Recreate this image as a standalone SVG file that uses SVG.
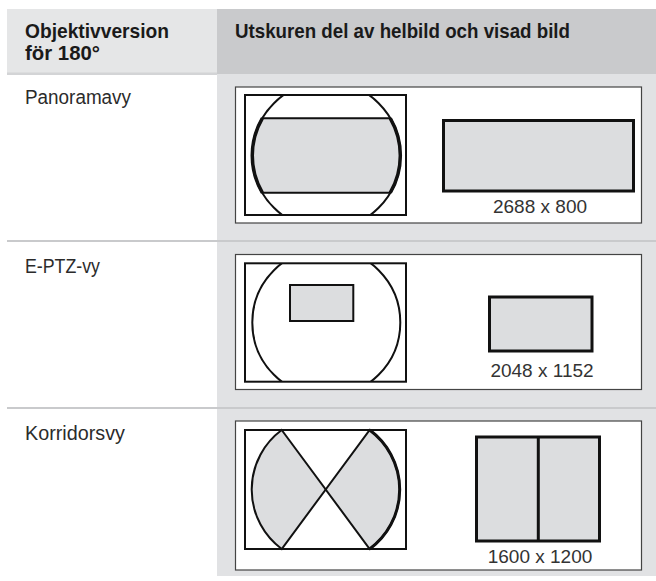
<svg xmlns="http://www.w3.org/2000/svg" width="656" height="581" viewBox="0 0 656 581">
<style>
.hd{font-family:"Liberation Sans",Arial,sans-serif;font-weight:bold;font-size:21px;fill:#1a1a1a}
.lb{font-family:"Liberation Sans",Arial,sans-serif;font-size:20px;fill:#2b2b2b}
.num{font-family:"Liberation Sans",Arial,sans-serif;font-size:19px;fill:#333;text-anchor:middle}
.box{fill:#fff;stroke:#444;stroke-width:1.2}
.frame{fill:none;stroke:#111;stroke-width:2}
.thin{fill:none;stroke:#111;stroke-width:2}
.thick{fill:none;stroke:#111;stroke-width:3.5}
.g{fill:#dcdddf;stroke:#111;stroke-width:2}
.gt{fill:#dcdddf;stroke:#111;stroke-width:3}
.sep{stroke:#c9cacc;stroke-width:2}
</style>
<defs>
<clipPath id="c1"><rect x="245" y="95" width="161" height="120"/></clipPath>
<clipPath id="c2"><rect x="245" y="263.3" width="161" height="118.4"/></clipPath>
</defs>
<g id="table">
<rect x="7" y="9" width="210" height="65" fill="#e5e6e7"/>
<rect x="217" y="9" width="439" height="65" fill="#c9cacc"/>
<rect x="7" y="72.5" width="210" height="2.5" fill="#d3d4d6"/>
<rect x="217" y="74" width="439" height="502" fill="#e1e2e4"/>
<line class="sep" x1="7" y1="241" x2="656" y2="241"/>
<line class="sep" x1="7" y1="408" x2="656" y2="408"/>
</g>
<g id="header">
<text class="hd" x="25" y="38" textLength="144" lengthAdjust="spacingAndGlyphs">Objektivversion</text>
<text class="hd" x="25" y="60" textLength="75" lengthAdjust="spacingAndGlyphs">för 180°</text>
<text class="hd" x="235" y="38" textLength="335" lengthAdjust="spacingAndGlyphs">Utskuren del av helbild och visad bild</text>
</g>
<g id="row-panorama">
<text class="lb" x="25" y="104" textLength="106" lengthAdjust="spacingAndGlyphs">Panoramavy</text>
<rect class="box" x="235.5" y="87" width="406" height="136"/>
<rect class="frame" x="245" y="95" width="161" height="120"/>
<circle class="thin" cx="326.3" cy="155.5" r="74" clip-path="url(#c1)"/>
<path d="M262.3 118.3 L390.3 118.3 A74 74 0 0 1 390.3 192.7 L262.3 192.7 A74 74 0 0 1 262.3 118.3 Z" class="g"/>
<path d="M390.3 118.3 A74 74 0 0 1 390.3 192.7 M262.3 192.7 A74 74 0 0 1 262.3 118.3" class="thick"/>
<rect class="gt" x="443.5" y="120.5" width="190" height="70.5"/>
<text class="num" x="540" y="213">2688 x 800</text>
</g>
<g id="row-eptz">
<text class="lb" x="25" y="273" textLength="75" lengthAdjust="spacingAndGlyphs">E-PTZ-vy</text>
<rect class="box" x="235.5" y="254.5" width="406" height="135"/>
<rect class="frame" x="245" y="263.3" width="161" height="118.4"/>
<circle class="thin" cx="326.3" cy="322.5" r="74" clip-path="url(#c2)"/>
<rect class="g" x="290" y="285" width="63.3" height="36"/>
<rect class="gt" x="489.5" y="297" width="102.5" height="54"/>
<text class="num" x="542" y="377">2048 x 1152</text>
</g>
<g id="row-korridor">
<text class="lb" x="25" y="440" textLength="100" lengthAdjust="spacingAndGlyphs">Korridorsvy</text>
<rect class="box" x="235.5" y="421" width="406" height="149"/>
<rect class="frame" x="245" y="430" width="161" height="119"/>
<path d="M281.7 430 L325.7 489.5 L281.7 549 A74 74 0 0 1 281.7 430 Z" class="g"/>
<path d="M369.7 430 A74 74 0 0 1 369.7 549 L325.7 489.5 Z" class="g"/>
<path d="M369.7 430 A74 74 0 0 1 369.7 549" class="thick" style="stroke-width:3"/>
<rect class="gt" x="476.5" y="437" width="123" height="104"/>
<line x1="538.3" y1="437" x2="538.3" y2="541" stroke="#111" stroke-width="3"/>
<text class="num" x="540" y="563">1600 x 1200</text>
</g>
</svg>
